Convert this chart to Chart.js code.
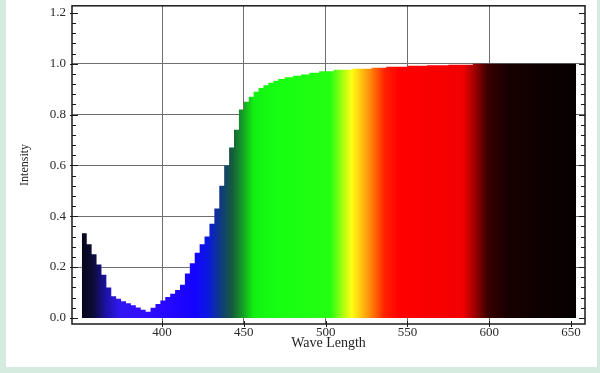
<!DOCTYPE html>
<html>
<head>
<meta charset="utf-8">
<script src="https://cdn.jsdelivr.net/npm/chart.js@4.4.0/dist/chart.umd.min.js"></script>
<style>
  html, body { margin: 0; padding: 0; background: #d6ebdf; overflow: hidden; }
  #wrap { position: absolute; left: 6px; top: 0; width: 591px; height: 367px; background: #ffffff; overflow: visible; }
  #c { position: absolute; left: -6px; top: -8px; }
</style>
</head>
<body>
<div id="wrap"><canvas id="c" width="600" height="381"></canvas></div>
<script>
// ---- data ----
const wavelengths = [351,354,357,360,363,366,369,372,375,378,381,384,387,390,393,396,399,402,405,408,411,414,417,420,423,426,429,432,435,438,441,444,447,450,453,456,459,462,465,468,471,475,480,485,490,496,505,516,528,537,550,562,575,590,600,653];
const intensity   = [0.333,0.333,0.29,0.25,0.21,0.17,0.12,0.085,0.075,0.066,0.058,0.05,0.041,0.032,0.024,0.04,0.055,0.068,0.082,0.095,0.11,0.13,0.175,0.215,0.256,0.29,0.32,0.37,0.43,0.52,0.60,0.67,0.74,0.82,0.85,0.87,0.89,0.905,0.915,0.925,0.933,0.94,0.947,0.953,0.958,0.965,0.970,0.976,0.980,0.984,0.988,0.992,0.994,0.996,1.0,1.0];
const xTicks = [400,450,500,550,600,650];
const yTicks = [0.0,0.2,0.4,0.6,0.8,1.0,1.2];
const spectrumStops = [
  [351,'#05051a'],[358,'#0c0c36'],[366,'#1e12a8'],[374,'#3018f0'],[385,'#3210ff'],
  [400,'#2a08ff'],[420,'#1404ff'],[428,'#0a18e0'],[436,'#103a80'],[443,'#165c3c'],
  [449,'#159a26'],[456,'#12f012'],[470,'#16ff12'],[503,'#24ff12'],[510,'#a0ff12'],
  [516,'#ffff12'],[522,'#ffc010'],[528,'#ff8008'],[536,'#ff2200'],[545,'#ff0000'],
  [584,'#f20000'],[591,'#a00000'],[599,'#3a0000'],[610,'#1a0000'],[630,'#0e0000'],[653,'#060000']
];

const serif = '"Liberation Serif", "DejaVu Serif", serif';

const framePlugin = {
  id: 'frame',
  afterDatasetsDraw(chart) {
    const {ctx, chartArea: a, scales: {x, y}} = chart;
    ctx.save();
    ctx.strokeStyle = '#1a1a1a';
    ctx.lineWidth = 1;
    for (let i = 0; i <= 30; i++) {
      const v = i * 0.04;
      const py = Math.round(y.getPixelForValue(v)) + 0.5;
      const major = i % 5 === 0;
      ctx.beginPath();
      ctx.moveTo(a.left - (major ? 2 : 0), py);
      ctx.lineTo(a.left + (major ? 6 : 4), py);
      ctx.moveTo(a.right - (major ? 6 : 4), py);
      ctx.lineTo(a.right, py);
      ctx.stroke();
    }
    xTicks.forEach(v => {
      const px = Math.round(x.getPixelForValue(v)) + 0.5;
      ctx.beginPath();
      ctx.moveTo(px, a.bottom - 3);
      ctx.lineTo(px, a.bottom + 3);
      ctx.stroke();
    });
    ctx.lineWidth = 1.5;
    ctx.strokeRect(a.left, a.top, a.right - a.left, a.bottom - a.top);
    ctx.restore();
  }
};

new Chart(document.getElementById('c'), {
  type: 'line',
  data: {
    datasets: [{
      data: wavelengths.map((w, i) => ({x: w, y: intensity[i]})),
      stepped: 'after',
      fill: 'origin',
      borderWidth: 0,
      borderColor: 'rgba(0,0,0,0)',
      pointRadius: 0,
      backgroundColor: (context) => {
        const chart = context.chart;
        const {ctx, chartArea, scales} = chart;
        if (!chartArea) return 'rgba(0,0,0,0)';
        const w0 = spectrumStops[0][0], w1 = spectrumStops[spectrumStops.length - 1][0];
        const x0 = scales.x.getPixelForValue(w0), x1 = scales.x.getPixelForValue(w1);
        const g = ctx.createLinearGradient(x0, 0, x1, 0);
        spectrumStops.forEach(([w, c]) => g.addColorStop((w - w0) / (w1 - w0), c));
        return g;
      }
    }]
  },
  options: {
    responsive: false,
    animation: false,
    layout: { padding: { left: 10, right: 15, top: 6, bottom: 21 } },
    plugins: { legend: { display: false }, tooltip: { enabled: false } },
    scales: {
      x: {
        type: 'linear',
        min: 345, max: 658.5,
        afterBuildTicks: s => { s.ticks = xTicks.map(v => ({value: v})); },
        afterFit: s => { s.height = 28; },
        grid: {
          drawTicks: false,
          color: c => (c.tick && c.tick.value < 650) ? '#6e6e6e' : 'rgba(0,0,0,0)',
          lineWidth: 1
        },
        border: { display: false },
        ticks: { padding: 1, color: '#2a2a2a', font: { family: serif, size: 13 }, maxRotation: 0, autoSkip: false },
        title: { display: true, text: 'Wave Length', color: '#222', font: { family: serif, size: 14 }, padding: { top: 0, bottom: 0 } }
      },
      y: {
        type: 'linear',
        min: -0.024, max: 1.228,
        afterBuildTicks: s => { s.ticks = yTicks.map(v => ({value: v})); },
        afterFit: s => { s.width = 62; },
        grid: {
          drawTicks: false,
          color: c => (c.tick && c.tick.value > 0.01 && c.tick.value < 1.1) ? '#6e6e6e' : 'rgba(0,0,0,0)',
          lineWidth: 1
        },
        border: { display: false },
        ticks: { padding: 6, color: '#2a2a2a', font: { family: serif, size: 13 }, callback: v => v.toFixed(1) },
        title: { display: true, text: 'Intensity', color: '#222', font: { family: serif, size: 12 }, padding: { top: 8, bottom: 0 } }
      }
    }
  },
  plugins: [framePlugin]
});
</script>
</body>
</html>
